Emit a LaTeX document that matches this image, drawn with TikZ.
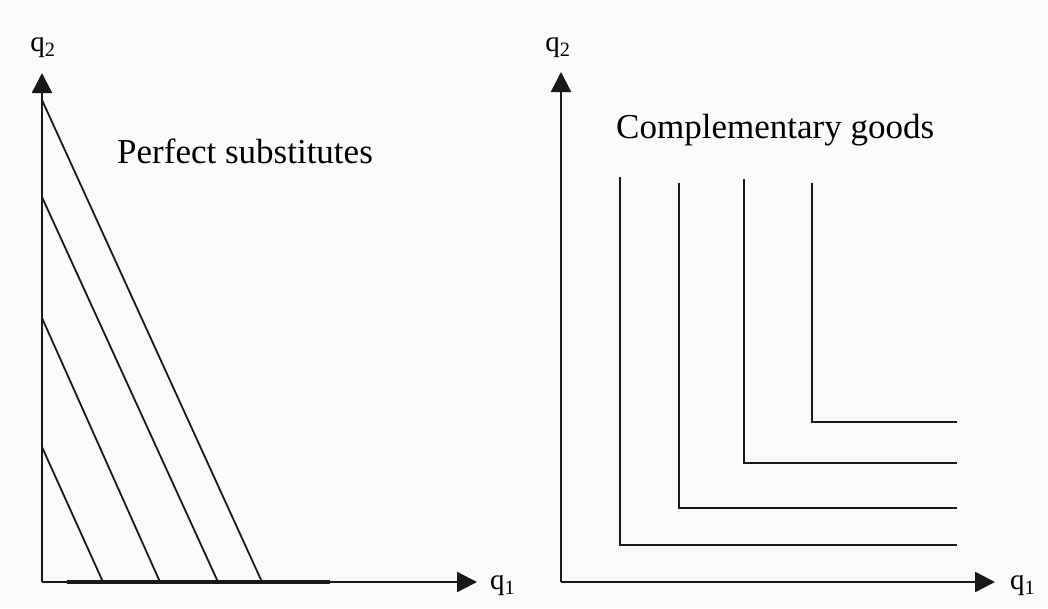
\documentclass[tikz,border=0pt]{standalone}
\usepackage{fontspec}
\setmainfont{Liberation Serif}
\usetikzlibrary{arrows.meta}
\definecolor{bgc}{RGB}{250,250,250}
\definecolor{ink}{RGB}{25,25,25}
\begin{document}
\begin{tikzpicture}[x=1pt,y=-1pt,
  axis/.style={draw=ink,line width=2.4pt,-{Triangle[length=20pt,width=20pt]}},
  curve/.style={draw=ink,line width=1.8pt},
  lbl/.style={inner sep=0pt,font=\fontsize{29}{32}\selectfont},
  title/.style={inner sep=0pt,anchor=base west,font=\fontsize{35}{40}\selectfont}]
\fill[bgc] (0,0) rectangle (1048,608);
\useasboundingbox (0,0) rectangle (1048,608);
% ---------- left panel: perfect substitutes
\coordinate (O1) at (42,582);
\coordinate (Y1) at (42,73);
\coordinate (X1) at (477,582);
\draw[axis] (O1) -- (Y1);
\draw[axis] (O1) -- (X1);
\coordinate (T1) at (67,582);
\coordinate (T2) at (330,582);
\draw[draw=ink,line width=3.6pt] (T1) -- (T2);
\node[lbl] (q2a) at (43,48) {q\textsubscript{2}};
\node[lbl,anchor=west] (q1a) at (490,586) {q\textsubscript{1}};
\node[title] (ps) at (117,163) {Perfect substitutes};
\coordinate (a1) at (42,100);  \coordinate (b1) at (262,582);
\coordinate (a2) at (42,197);  \coordinate (b2) at (218,582);
\coordinate (a3) at (42,318);  \coordinate (b3) at (160,582);
\coordinate (a4) at (42,447);  \coordinate (b4) at (103,582);
\draw[curve] (a1) -- (b1);
\draw[curve] (a2) -- (b2);
\draw[curve] (a3) -- (b3);
\draw[curve] (a4) -- (b4);
% ---------- right panel: complementary goods
\coordinate (O2) at (561,582);
\coordinate (Y2) at (561,72);
\coordinate (X2) at (995,582);
\draw[axis] (O2) -- (Y2);
\draw[axis] (O2) -- (X2);
\node[lbl] (q2b) at (558,48) {q\textsubscript{2}};
\node[lbl,anchor=west] (q1b) at (1010,586) {q\textsubscript{1}};
\node[title] (cg) at (616,138) {Complementary goods};
\coordinate (c1) at (620,177); \coordinate (k1) at (620,545); \coordinate (e1) at (957,545);
\coordinate (c2) at (679,183); \coordinate (k2) at (679,508); \coordinate (e2) at (957,508);
\coordinate (c3) at (744,179); \coordinate (k3) at (744,463); \coordinate (e3) at (957,463);
\coordinate (c4) at (812,183); \coordinate (k4) at (812,422); \coordinate (e4) at (957,422);
\draw[curve] (c1) -- (k1) -- (e1);
\draw[curve] (c2) -- (k2) -- (e2);
\draw[curve] (c3) -- (k3) -- (e3);
\draw[curve] (c4) -- (k4) -- (e4);
\end{tikzpicture}
\end{document}
